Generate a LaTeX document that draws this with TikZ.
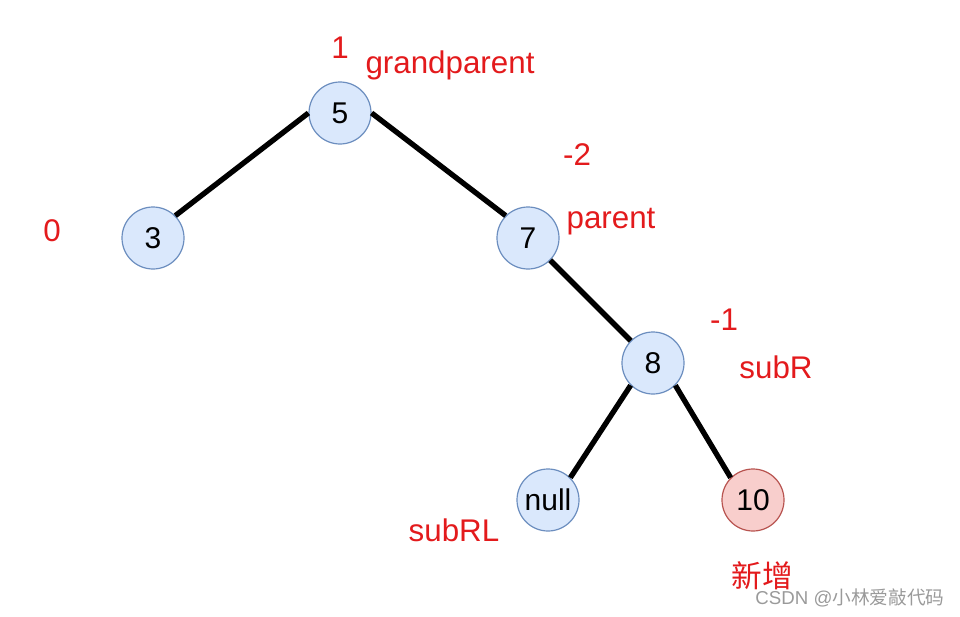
\documentclass[tikz,border=0pt]{standalone}
\usepackage{fontspec}
\setmainfont{Liberation Sans}
\newfontfamily\cjk{Noto Sans CJK SC}
\definecolor{nfillb}{HTML}{DAE8FC}
\definecolor{ndrawb}{HTML}{6C8EBF}
\definecolor{nfillr}{HTML}{F8CECC}
\definecolor{ndrawr}{HTML}{B85450}
\definecolor{lblred}{HTML}{E31A1C}
\definecolor{wmgray}{HTML}{9A9A9A}
\tikzset{
  treenode/.style={circle, draw=ndrawb, fill=nfillb, line width=0.9pt, minimum size=46.5pt, inner sep=0pt, font=\fontsize{22.5}{22.5}\selectfont},
  newnode/.style={treenode, draw=ndrawr, fill=nfillr},
  lbl/.style={text=lblred, font=\fontsize{23.5}{23.5}\selectfont, inner sep=0pt, anchor=center},
  edge/.style={line width=4pt, black},
}
\begin{document}
\begin{tikzpicture}[x=0.75pt, y=-0.75pt]
\useasboundingbox (0,0) rectangle (960,617);
\node[treenode] (n5) at (340,113) {5};
\node[treenode] (n3) at (153,238) {3};
\node[treenode] (n7) at (528,238) {7};
\node[treenode] (n8) at (653,363) {8};
\node[treenode] (nnull) at (548,500) {null};
\node[newnode] (n10) at (753,500) {10};
\draw[edge] (n5.west) -- (n3.north east);
\draw[edge] (n5.east) -- (n7.north west);
\draw[edge] (n7.south east) -- (n8.north west);
\draw[edge] (n8.south west) -- (nnull.north east);
\draw[edge] (n8.south east) -- (n10.north west);
\node[lbl] (l1) at (340,48) {1};
\node[lbl] (lgp) at (450,65) {grandparent};
\node[lbl] (lm2) at (577,155) {-2};
\node[lbl] (l0) at (52,231) {0};
\node[lbl] (lpar) at (611,222) {parent};
\node[lbl] (lm1) at (724,320) {-1};
\node[lbl] (lsubr) at (776,367) {subR};
\node[lbl] (lsubrl) at (454,530) {subRL};
\node[lbl, font=\cjk\fontsize{23}{23}\selectfont] (lnew) at (762,576) {新增};
\node[text=wmgray, font=\fontsize{14}{14}\selectfont, inner sep=0pt] (wm) at (850,598) {CSDN @{\cjk 小林爱敲代码}};
\end{tikzpicture}
\end{document}
